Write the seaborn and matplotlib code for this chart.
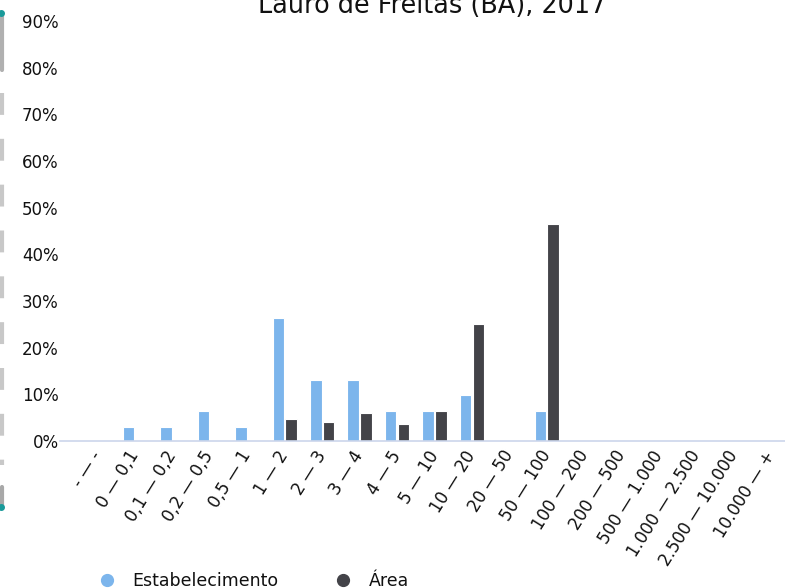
import pandas as pd
import numpy as np
import matplotlib
matplotlib.use("Agg")
import matplotlib.pyplot as plt
from matplotlib.lines import Line2D
import seaborn as sns

# classes de área (ha)
categorias = ["- — -", "0 — 0,1", "0,1 — 0,2", "0,2 — 0,5", "0,5 — 1", "1 — 2",
              "2 — 3", "3 — 4", "4 — 5", "5 — 10", "10 — 20", "20 — 50",
              "50 — 100", "100 — 200", "200 — 500", "500 — 1.000",
              "1.000 — 2.500", "2.500 — 10.000", "10.000 — +"]
estabelecimento = [0, 3.1, 3.1, 6.4, 3.1, 26.3, 13.0, 13.0, 6.4, 6.4, 9.8, 0,
                   6.4, 0, 0, 0, 0, 0, 0]
area = [0, 0, 0, 0, 0, 4.8, 4.1, 6.0, 3.7, 6.4, 25.0, 0,
        46.6, 0, 0, 0, 0, 0, 0]
series = ["Estabelecimento", "Área"]
cores = ["#7cb5ec", "#434348"]
titulo = "Lauro de Freitas (BA), 2017"

df = pd.DataFrame({
    "classe": categorias * 2,
    "valor": estabelecimento + area,
    "serie": [series[0]] * len(categorias) + [series[1]] * len(categorias),
})

sns.set_style("white")
plt.rcParams["font.family"] = ["DejaVu Sans"]
plt.rcParams["text.color"] = "#111111"
plt.rcParams["xtick.color"] = "#111111"
plt.rcParams["ytick.color"] = "#111111"

fig = plt.figure(figsize=(7.85, 5.88), dpi=100)
ax = fig.add_axes([60 / 785, 1 - 441 / 588, 725 / 785, 420 / 588])

sns.barplot(data=df, x="classe", y="valor", hue="serie", order=categorias,
            hue_order=series, palette=cores, saturation=1, width=0.68, gap=0.1,
            edgecolor="white", linewidth=0.8, legend=False, ax=ax)

ax.set_xlim(-1.0, 18.36)
ax.set_ylim(0, 90)
ax.set_yticks(np.arange(0, 91, 10))
ax.set_yticklabels([f"{v}%" for v in range(0, 91, 10)], fontsize=12)
ax.set_xlabel("")
ax.set_ylabel("")
for s in ["top", "right", "left"]:
    ax.spines[s].set_visible(False)
ax.spines["bottom"].set_color("#ccd6eb")
ax.spines["bottom"].set_linewidth(1.2)
ax.tick_params(axis="y", length=0, pad=1)
ax.tick_params(axis="x", length=0, pad=8)
plt.setp(ax.get_xticklabels(), rotation=58, ha="right", va="center",
         rotation_mode="anchor", fontsize=12)

fig.text(432 / 785, 1 - 13 / 588, titulo, ha="center", va="baseline",
         fontsize=18.4)

handles = [Line2D([], [], marker="o", linestyle="none", markersize=8.5,
                  markerfacecolor=c, markeredgecolor=c) for c in cores]
fig.legend(handles, series, loc="center", bbox_to_anchor=(0.323, 1 - 581 / 588),
           ncol=2, frameon=False, fontsize=12.5, handlelength=1.0,
           handletextpad=0.95, columnspacing=3.25, borderpad=0)

# barra lateral cinza (artefato da captura)
fig.add_artist(Line2D([2 / 785, 2 / 785], [1 - 93 / 588, 1 - 465 / 588],
                      transform=fig.transFigure, color="#c8c8c8", lw=3,
                      linestyle=(0, (5.25, 5.75))))
fig.add_artist(Line2D([2 / 785, 2 / 785], [1 - 15 / 588, 1 - 70 / 588],
                      transform=fig.transFigure, color="#b0b0b0", lw=3))
fig.add_artist(Line2D([2 / 785, 2 / 785], [1 - 487 / 588, 1 - 506 / 588],
                      transform=fig.transFigure, color="#a8a8a8", lw=3))
fig.add_artist(Line2D([1 / 785, 1 / 785], [1 - 13 / 588, 1 - 507 / 588],
                      transform=fig.transFigure, color="#1a9a9a", lw=0,
                      marker="o", markersize=4))

fig.savefig("out.png", dpi=100)
